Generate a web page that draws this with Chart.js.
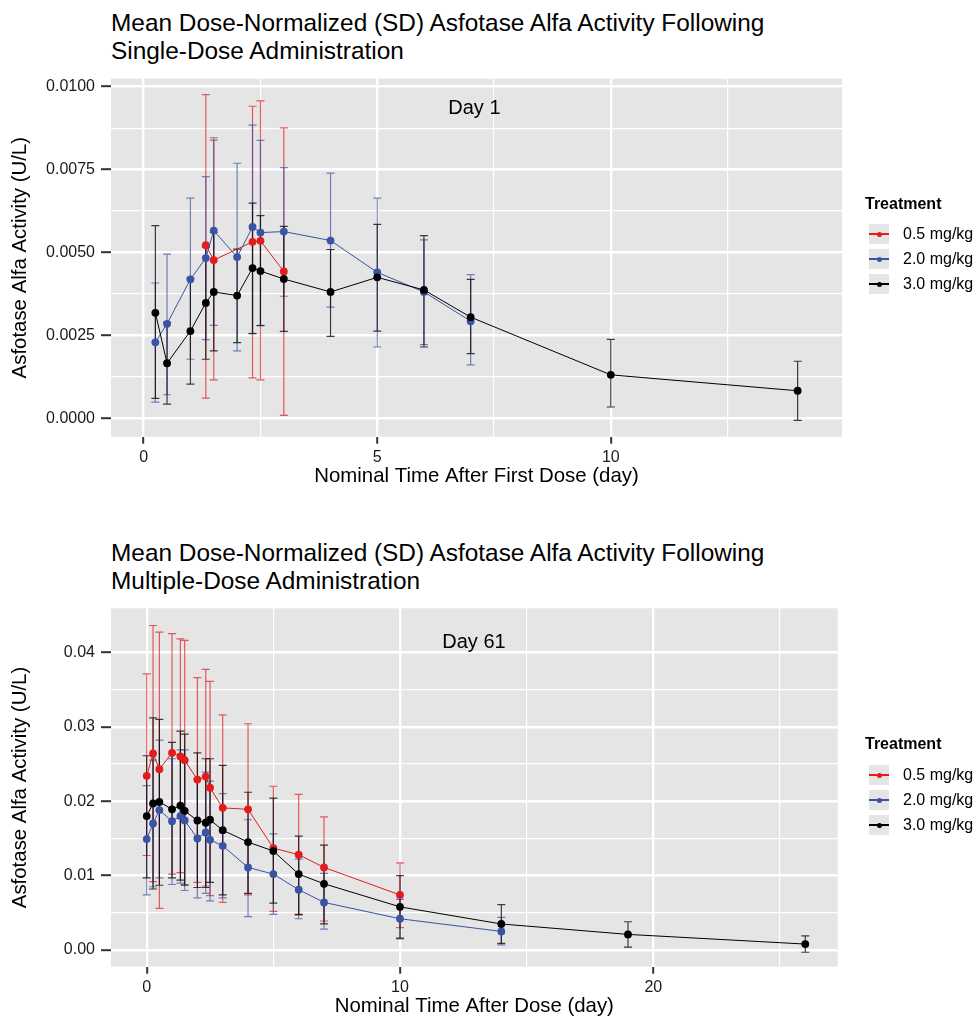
<!DOCTYPE html>
<html>
<head>
<meta charset="utf-8">
<script src="https://cdn.jsdelivr.net/npm/chart.js@4.4.1/dist/chart.umd.min.js"></script>
<style>
  html, body { margin: 0; padding: 0; background: #fff; overflow: hidden; }
  body { width: 974px; height: 1016px; position: relative; font-family: "Liberation Sans", Arial, Helvetica, sans-serif; color: #000; }
  .title { position: absolute; left: 111px; font-size: 24.4px; line-height: 28.3px; white-space: nowrap; }
  canvas { position: absolute; left: 0; }
  .leg-title { position: absolute; left: 865px; font-size: 16px; font-weight: bold; line-height: 20px; }
  .leg-key { position: absolute; left: 869px; width: 20px; height: 20px; background: #E5E5E5; }
  .leg-key .ln { position: absolute; left: 0; top: 9.3px; width: 20px; height: 1.4px; }
  .leg-key .dt { position: absolute; left: 7.5px; top: 7.5px; width: 5px; height: 5px; border-radius: 50%; }
  .leg-label { position: absolute; left: 903px; font-size: 16px; line-height: 20px; white-space: nowrap; }
</style>
</head>
<body>
<div class="title" style="top:9px">Mean Dose-Normalized (SD) Asfotase Alfa Activity Following<br>Single-Dose Administration</div>
<div class="title" style="top:539px">Mean Dose-Normalized (SD) Asfotase Alfa Activity Following<br>Multiple-Dose Administration</div>
<canvas id="chart1" width="974" height="500" style="top:0"></canvas>
<canvas id="chart2" width="974" height="500" style="top:530px"></canvas>
<div id="legends"></div>

<script>
// Treatment groups
const doseLabels = ["0.5 mg/kg", "2.0 mg/kg", "3.0 mg/kg"];
const doseColors = ["#E41A1C", "#3A53A4", "#000000"];
const barColors = ["rgba(228,26,28,0.7)", "rgba(58,83,164,0.7)", "rgba(0,0,0,0.75)"];

// Day 1 - single dose (time in days, mean, mean-SD, mean+SD)
const d1TimeLow = [1.33, 1.5, 2.33, 2.5, 3];
const d1MeanLow = [0.00522, 0.00477, 0.00532, 0.00535, 0.00443];
const d1LoLow = [0.00061, 0.00116, 0.00122, 0.00116, 0.00009];
const d1HiLow = [0.00976, 0.00839, 0.00941, 0.00957, 0.00876];

const d1TimeMid = [0.25, 0.5, 1, 1.33, 1.5, 2, 2.33, 2.5, 3, 4, 5, 6, 7];
const d1MeanMid = [0.00229, 0.00285, 0.00419, 0.00483, 0.00566, 0.00486, 0.00577, 0.0056, 0.00563, 0.00536, 0.0044, 0.00381, 0.00293];
const d1LoMid = [0.00049, 0.00071, 0.00178, 0.00237, 0.0028, 0.00203, 0.00256, 0.0028, 0.00368, 0.00335, 0.00215, 0.00222, 0.00161];
const d1HiMid = [0.00408, 0.00495, 0.00664, 0.00729, 0.00846, 0.00769, 0.00884, 0.00838, 0.00756, 0.00739, 0.00664, 0.00538, 0.00433];

const d1TimeHigh = [0.25, 0.5, 1, 1.33, 1.5, 2, 2.33, 2.5, 3, 4, 5, 6, 7, 10, 14];
const d1MeanHigh = [0.00318, 0.00166, 0.00263, 0.00348, 0.00381, 0.0037, 0.00453, 0.00444, 0.0042, 0.00381, 0.00425, 0.00387, 0.00305, 0.00131, 0.00083];
const d1LoHigh = [0.0006, 0.00043, 0.00103, 0.00178, 0.00203, 0.00228, 0.00255, 0.00279, 0.00262, 0.00247, 0.00263, 0.00215, 0.00195, 0.00034, -0.00006];
const d1HiHigh = [0.00581, 0.00289, 0.00423, 0.00516, 0.00561, 0.0051, 0.00649, 0.00611, 0.00579, 0.00509, 0.00585, 0.00551, 0.00419, 0.00238, 0.00172];

// Day 61 - multiple dose
const d61TimeLow = [0, 0.25, 0.5, 1, 1.33, 1.5, 2, 2.33, 2.5, 3, 4, 5, 6, 7, 10];
const d61MeanLow = [0.0234, 0.0264, 0.0243, 0.0265, 0.026, 0.0255, 0.0229, 0.0233, 0.0218, 0.0191, 0.0189, 0.0137, 0.0128, 0.0111, 0.0074];
const d61LoLow = [0.0127, 0.0092, 0.0056, 0.0102, 0.0104, 0.0088, 0.0091, 0.0086, 0.0073, 0.0064, 0.0074, 0.0052, 0.0047, 0.0039, 0.003];
const d61HiLow = [0.0371, 0.0436, 0.0427, 0.0425, 0.0418, 0.0416, 0.0366, 0.0377, 0.0361, 0.0316, 0.0304, 0.022, 0.0209, 0.0179, 0.0117];

const d61TimeMid = [0, 0.25, 0.5, 1, 1.33, 1.5, 2, 2.33, 2.5, 3, 4, 5, 6, 7, 10, 14];
const d61MeanMid = [0.0149, 0.017, 0.0188, 0.0173, 0.018, 0.0174, 0.015, 0.0158, 0.0148, 0.014, 0.0111, 0.0102, 0.0081, 0.0064, 0.0042, 0.0025];
const d61LoMid = [0.0074, 0.0085, 0.0097, 0.0088, 0.009, 0.008, 0.007, 0.0076, 0.0066, 0.007, 0.0045, 0.0048, 0.0042, 0.0028, 0.0015, 0.0007];
const d61HiMid = [0.0221, 0.0255, 0.0282, 0.0257, 0.0269, 0.0269, 0.023, 0.0239, 0.0227, 0.021, 0.0175, 0.0156, 0.0122, 0.0103, 0.0068, 0.0044];

const d61TimeHigh = [0, 0.25, 0.5, 1, 1.33, 1.5, 2, 2.33, 2.5, 3, 4, 5, 6, 7, 10, 14, 19, 26];
const d61MeanHigh = [0.018, 0.0197, 0.0199, 0.0189, 0.0194, 0.0187, 0.0174, 0.0171, 0.0175, 0.0161, 0.0145, 0.0133, 0.0102, 0.0089, 0.0058, 0.0035, 0.0021, 0.0008];
const d61LoHigh = [0.0097, 0.0082, 0.0087, 0.0097, 0.0094, 0.0087, 0.0084, 0.0084, 0.0091, 0.0074, 0.0076, 0.0063, 0.0048, 0.0035, 0.0016, 0.0009, 0.0004, -0.0003];
const d61HiHigh = [0.0261, 0.0312, 0.031, 0.0279, 0.0294, 0.029, 0.0265, 0.0257, 0.0257, 0.0248, 0.0212, 0.0204, 0.0153, 0.0141, 0.01, 0.0061, 0.0038, 0.0019];

// Axis breaks
const d1XTicks = [0, 2.5, 5, 7.5, 10, 12.5];
const d1XMajor = [0, 5, 10];
const d1YTicks = [0, 0.00125, 0.0025, 0.00375, 0.005, 0.00625, 0.0075, 0.00875, 0.01];
const d1YMajor = [0, 0.0025, 0.005, 0.0075, 0.01];
const d61XTicks = [0, 5, 10, 15, 20, 25];
const d61XMajor = [0, 10, 20];
const d61YTicks = [0, 0.005, 0.01, 0.015, 0.02, 0.025, 0.03, 0.035, 0.04];
const d61YMajor = [0, 0.01, 0.02, 0.03, 0.04];

const FONT = '"Liberation Sans", Arial, Helvetica, sans-serif';

// Grey panel background
const panelBg = {
  id: 'panelBg',
  beforeDraw(chart) {
    const { ctx, chartArea: a } = chart;
    ctx.save();
    ctx.fillStyle = "#E5E5E5";
    ctx.fillRect(a.left, a.top, a.right - a.left, a.bottom - a.top);
    ctx.restore();
  }
};

// Error bars (mean +/- SD) drawn under lines and points
const errorBars = {
  id: 'errorBars',
  beforeDatasetsDraw(chart) {
    const { ctx, chartArea: a, scales: { x, y } } = chart;
    ctx.save();
    ctx.beginPath();
    ctx.rect(a.left, a.top, a.right - a.left, a.bottom - a.top);
    ctx.clip();
    chart.data.datasets.forEach(ds => {
      ctx.strokeStyle = ds.barColor;
      ctx.lineWidth = 1.2;
      ds.data.forEach((p, i) => {
        const px = x.getPixelForValue(p.x);
        const top = y.getPixelForValue(ds.hi[i]);
        const bot = y.getPixelForValue(ds.lo[i]);
        ctx.beginPath();
        ctx.moveTo(px, top); ctx.lineTo(px, bot);
        ctx.moveTo(px - 4, top); ctx.lineTo(px + 4, top);
        ctx.moveTo(px - 4, bot); ctx.lineTo(px + 4, bot);
        ctx.stroke();
      });
    });
    ctx.restore();
  }
};

// "Day 1" / "Day 61" text placed in data coordinates
const dayLabel = {
  id: 'dayLabel',
  afterDatasetsDraw(chart, args, opts) {
    const { ctx, scales: { x, y } } = chart;
    ctx.save();
    ctx.font = "20px " + FONT;
    ctx.fillStyle = "#000";
    ctx.textAlign = "center";
    ctx.textBaseline = "middle";
    ctx.fillText(opts.text, x.getPixelForValue(opts.x), y.getPixelForValue(opts.y));
    ctx.restore();
  }
};

function isMajor(v, majors) {
  return majors.some(m => Math.abs(m - v) < 1e-9);
}

function makeSeries(i, time, mean, lo, hi) {
  return {
    label: doseLabels[i],
    data: time.map((t, k) => ({ x: t, y: mean[k] })),
    lo: lo,
    hi: hi,
    barColor: barColors[i],
    showLine: true,
    borderColor: doseColors[i],
    backgroundColor: doseColors[i],
    borderWidth: 1,
    pointRadius: 3.9,
    pointBorderWidth: 0,
    order: 3 - i
  };
}

function makeChart(id, cfg) {
  return new Chart(document.getElementById(id), {
    type: "scatter",
    data: { datasets: cfg.datasets },
    options: {
      responsive: false,
      animation: false,
      devicePixelRatio: 1,
      layout: { padding: { top: cfg.padTop, right: cfg.padRight, left: 0, bottom: 0 } },
      plugins: {
        legend: { display: false },
        tooltip: { enabled: false },
        dayLabel: cfg.label
      },
      scales: {
        x: {
          type: "linear",
          min: cfg.xMin,
          max: cfg.xMax,
          afterFit: s => { s.height = 63.3; },
          afterBuildTicks: s => { s.ticks = cfg.xTicks.map(v => ({ value: v })); },
          ticks: {
            autoSkip: false,
            maxRotation: 0,
            padding: 4,
            color: "#1a1a1a",
            font: { size: 16, family: FONT },
            callback: v => isMajor(v, cfg.xMajor) ? String(v) : ""
          },
          grid: {
            color: "#ffffff",
            lineWidth: c => isMajor(c.tick.value, cfg.xMajor) ? 2.4 : 1.2,
            tickColor: c => isMajor(c.tick.value, cfg.xMajor) ? "#333333" : "rgba(0,0,0,0)",
            tickWidth: 2,
            tickLength: 7
          },
          border: { display: false },
          title: {
            display: true,
            text: cfg.xTitle,
            color: "#000",
            font: { size: 20.4, family: FONT },
            padding: { top: 0, bottom: 11 }
          }
        },
        y: {
          type: "linear",
          min: cfg.yMin,
          max: cfg.yMax,
          afterFit: s => { s.width = 111; },
          afterBuildTicks: s => { s.ticks = cfg.yTicks.map(v => ({ value: v })); },
          ticks: {
            autoSkip: false,
            padding: 6,
            color: "#1a1a1a",
            font: { size: 16, family: FONT },
            callback: v => isMajor(v, cfg.yMajor) ? v.toFixed(cfg.yDigits) : ""
          },
          grid: {
            color: "#ffffff",
            lineWidth: c => isMajor(c.tick.value, cfg.yMajor) ? 2.4 : 1.2,
            tickColor: c => isMajor(c.tick.value, cfg.yMajor) ? "#333333" : "rgba(0,0,0,0)",
            tickWidth: 2,
            tickLength: 10
          },
          border: { display: false },
          title: {
            display: true,
            text: "Asfotase Alfa Activity (U/L)",
            color: "#000",
            font: { size: 20.4, family: FONT },
            padding: { top: 8, bottom: 0 }
          }
        }
      }
    },
    plugins: [panelBg, errorBars, dayLabel]
  });
}

makeChart("chart1", {
  datasets: [
    makeSeries(0, d1TimeLow, d1MeanLow, d1LoLow, d1HiLow),
    makeSeries(1, d1TimeMid, d1MeanMid, d1LoMid, d1HiMid),
    makeSeries(2, d1TimeHigh, d1MeanHigh, d1LoHigh, d1HiHigh)
  ],
  padTop: 78.7, padRight: 132,
  xMin: -0.70, xMax: 14.95, xTicks: d1XTicks, xMajor: d1XMajor,
  yMin: -0.000555, yMax: 0.01024, yTicks: d1YTicks, yMajor: d1YMajor, yDigits: 4,
  xTitle: "Nominal Time After First Dose (day)",
  label: { text: "Day 1", x: 7.08, y: 0.00934 }
});

makeChart("chart2", {
  datasets: [
    makeSeries(0, d61TimeLow, d61MeanLow, d61LoLow, d61HiLow),
    makeSeries(1, d61TimeMid, d61MeanMid, d61LoMid, d61HiMid),
    makeSeries(2, d61TimeHigh, d61MeanHigh, d61LoHigh, d61HiHigh)
  ],
  padTop: 78.3, padRight: 136.3,
  xMin: -1.41, xMax: 27.28, xTicks: d61XTicks, xMajor: d61XMajor,
  yMin: -0.00224, yMax: 0.04591, yTicks: d61YTicks, yMajor: d61YMajor, yDigits: 2,
  xTitle: "Nominal Time After Dose (day)",
  label: { text: "Day 61", x: 12.92, y: 0.0413 }
});

// Legends (ggplot style keys)
function buildLegend(titleTop, firstRowCenter) {
  const box = document.getElementById("legends");
  const t = document.createElement("div");
  t.className = "leg-title";
  t.style.top = titleTop + "px";
  t.textContent = "Treatment";
  box.appendChild(t);
  doseLabels.forEach((name, i) => {
    const c = firstRowCenter + i * 25;
    const key = document.createElement("div");
    key.className = "leg-key";
    key.style.top = (c - 10) + "px";
    key.innerHTML = '<div class="ln" style="background:' + doseColors[i] + '"></div>' +
      '<div class="dt" style="background:' + doseColors[i] + '"></div>';
    box.appendChild(key);
    const lab = document.createElement("div");
    lab.className = "leg-label";
    lab.style.top = (c - 10) + "px";
    lab.textContent = name;
    box.appendChild(lab);
  });
}

buildLegend(193.5, 234);
buildLegend(734, 775);
</script>
</body>
</html>
